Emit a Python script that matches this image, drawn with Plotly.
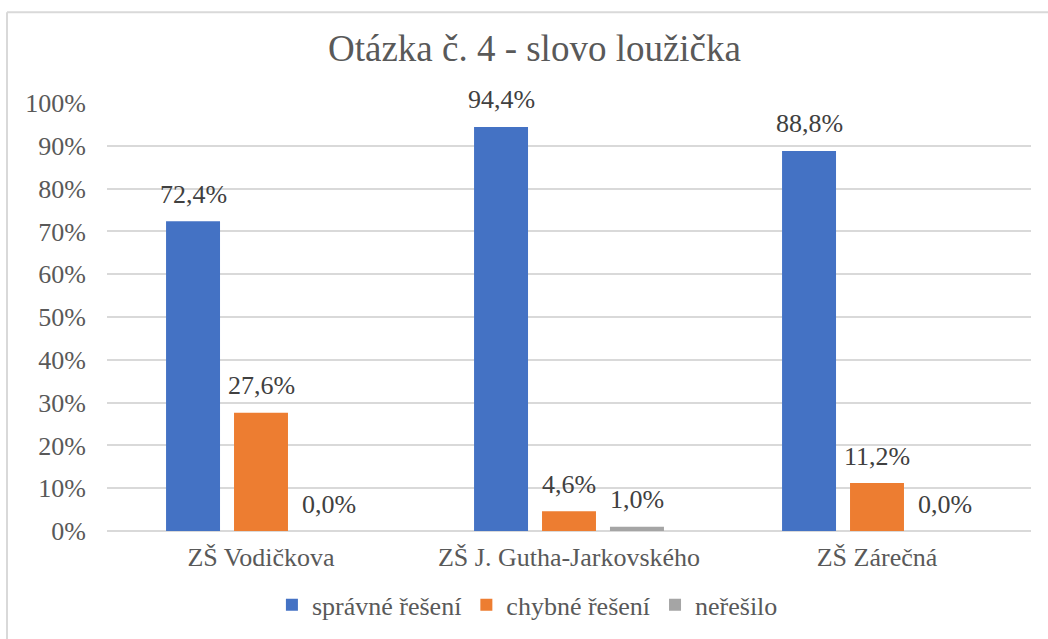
import plotly.graph_objects as go

categories = ["ZŠ Vodičkova", "ZŠ J. Gutha-Jarkovského", "ZŠ Zárečná"]
series_names = ["správné řešení", "chybné řešení", "neřešilo"]
spravne = [0.724, 0.944, 0.888]
chybne = [0.276, 0.046, 0.112]
neresilo = [0.0, 0.010, 0.0]
colors = ["#4472C4", "#ED7D31", "#A5A5A5"]
title_text = "Otázka č. 4 - slovo loužička"

FONT = "'Liberation Serif', 'Times New Roman', serif"
series = [spravne, chybne, neresilo]

fig = go.Figure()
for name, vals, col in zip(series_names, series, colors):
    fig.add_trace(go.Bar(name=name, x=categories, y=vals, marker_color=col,
                         marker_line_width=0))

annotations = []
for i, vals in enumerate(series):
    for c, v in zip(categories, vals):
        annotations.append(dict(
            x=c, y=v, xref="x", yref="y", text=f"{v*100:.1f}%".replace(".", ","),
            showarrow=False, xshift=(i - 1) * 68, yshift=27, yanchor="middle",
            font=dict(family=FONT, size=26, color="#404040")))

fig.update_layout(
    width=1048, height=639,
    margin=dict(l=107, r=17, t=103, b=107),
    paper_bgcolor="white", plot_bgcolor="white",
    barmode="group", bargap=0.338, bargroupgap=0.206,
    title=dict(text=title_text, xref="container", x=0.51, xanchor="center",
               yref="container", y=1 - 48 / 639, yanchor="middle",
               font=dict(family=FONT, size=37, color="#595959")),
    font=dict(family=FONT, size=26, color="#595959"),
    showlegend=True,
    legend=dict(orientation="h", x=0.455, xanchor="center", y=-0.17, yanchor="middle",
                font=dict(family=FONT, size=26, color="#595959"),
                itemwidth=30, traceorder="normal"),
    annotations=annotations,
    shapes=[
        dict(type="line", xref="paper", yref="paper", x0=(7 - 107) / 924, x1=1.05,
             y0=1 + (103 - 12) / 429, y1=1 + (103 - 12) / 429,
             line=dict(color="#D9D9D9", width=2)),
        dict(type="line", xref="paper", yref="paper", x0=(7 - 107) / 924, x1=(7 - 107) / 924,
             y0=1 + (103 - 12) / 429, y1=-0.3,
             line=dict(color="#D9D9D9", width=2)),
    ],
)
fig.update_yaxes(range=[0, 1], tickvals=[i / 10 for i in range(11)],
                 ticktext=[f"{i*10}%" for i in range(11)],
                 showgrid=True, gridcolor="#D9D9D9", gridwidth=1.5,
                 zeroline=True, zerolinecolor="#D9D9D9", zerolinewidth=1.5,
                 showline=False, ticks="", ticklabelstandoff=20,
                 tickfont=dict(family=FONT, size=26, color="#595959"))
fig.update_xaxes(showline=False, ticks="", showgrid=False, ticklabelstandoff=8,
                 tickfont=dict(family=FONT, size=26, color="#595959"))

fig.write_html("out.html", config={"displayModeBar": False},
               post_script="document.body.style.margin='0';")
